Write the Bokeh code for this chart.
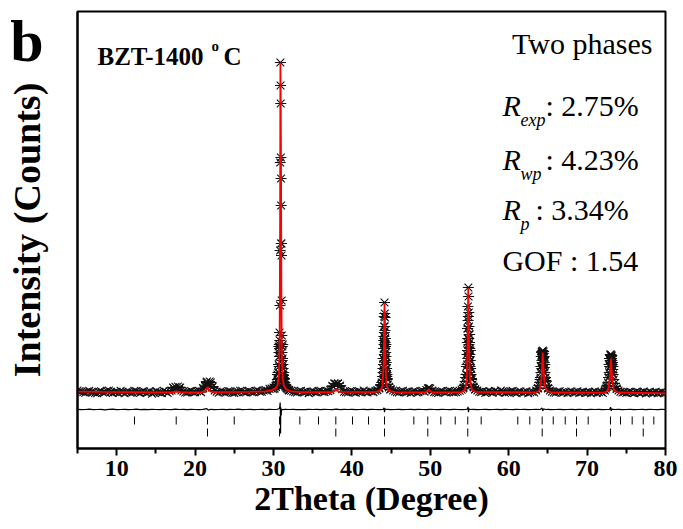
import numpy as np
from bokeh.plotting import figure
from bokeh.models import Range1d, Label, FixedTicker, ColumnDataSource
from bokeh.embed import file_html
from bokeh.resources import INLINE

FONT = "Liberation Serif"

# ---------------- data ----------------
# observed intensity on a 0.25 degree grid (counts, arbitrary scale)
obs_grid_x = np.arange(5.0, 80.001, 0.25)
obs_grid_y = [
    700, 660, 640, 610, 590, 650, 680, 620, 620, 580, 560, 640, 660, 600, 610, 680, 700, 630, 580, 620,
    630, 580, 690, 640, 560, 620, 640, 590, 600, 680, 670, 610, 580, 640, 650, 590, 610, 660, 540, 600,
    660, 620, 600, 570, 690, 640, 580, 660, 700, 820, 880, 760, 840, 700, 650, 600, 600, 650, 670, 620,
    620, 660, 680, 620, 820, 960, 1150, 1020, 1100, 900, 700, 640, 590, 650, 640, 600, 610, 670, 660, 590,
    580, 620, 640, 690, 690, 610, 600, 660, 650, 620, 610, 680, 700, 640, 640, 700, 720, 680, 780, 800,
    850, 920, 1250, 2400, 8050, 1350, 950, 820, 720, 690, 650, 620, 600, 660, 680, 610, 620, 650, 570, 630,
    650, 610, 600, 680, 690, 640, 620, 670, 660, 720, 930, 1050, 1020, 1050, 950, 760, 640, 620, 600, 660,
    670, 620, 590, 650, 640, 610, 700, 630, 600, 660, 650, 620, 690, 720, 820, 1000, 2300, 3300, 1300, 880,
    760, 700, 650, 620, 600, 660, 680, 610, 620, 650, 580, 640, 660, 600, 610, 670, 690, 640, 720, 800,
    800, 700, 620, 600, 580, 650, 660, 610, 610, 670, 690, 630, 600, 620, 650, 690, 740, 850, 1350, 3800,
    3100, 1300, 900, 760, 700, 640, 620, 660, 580, 620, 660, 640, 600, 680, 640, 590, 700, 650, 590, 620,
    620, 660, 680, 600, 570, 640, 650, 590, 610, 660, 560, 610, 640, 600, 700, 820, 1250, 2650, 2100, 1200,
    820, 700, 640, 600, 590, 650, 660, 600, 600, 640, 560, 620, 650, 600, 610, 660, 580, 610, 640, 590,
    600, 640, 560, 610, 650, 590, 610, 640, 580, 700, 880, 1350, 2450, 1750, 1050, 800, 700, 640, 600, 620,
    580, 620, 640, 590, 570, 640, 620, 580, 600, 650, 550, 600, 630, 580, 590, 640, 560, 600, 620, 570,
    580,
]

# extra observed points around the reflections
obs_peak_x = [
    17.2, 17.8, 18.1,
    21.3, 21.45, 21.7, 21.85, 22.15,
    30.0, 30.15, 30.3, 30.45, 30.55, 30.62, 30.68, 30.72, 30.76, 30.78,
    30.5, 30.6, 30.7, 30.35, 30.58, 30.64, 30.74, 30.77, 30.66,
    30.80, 30.82, 30.84, 30.86, 30.88, 30.90, 30.92, 30.94, 30.96, 30.98,
    31.00, 31.02, 31.04, 31.06, 31.08, 31.10,
    31.14, 31.2, 31.25, 31.3, 31.4, 31.5, 31.6, 31.7, 31.85, 32.0,
    31.2, 31.3, 31.4, 31.12, 31.16, 31.22, 31.28, 31.35, 31.45, 31.18,
    37.6, 37.8, 38.2, 38.4,
    43.5, 43.7, 43.8, 43.9, 43.95, 44.0, 44.04, 44.08, 44.12, 44.16,
    44.19, 44.22, 44.25, 44.28, 44.31, 44.34, 44.38, 44.42, 44.47, 44.52,
    44.6, 44.7, 44.85, 44.1, 44.2, 44.26, 44.3, 44.14, 44.24,
    44.02, 44.06, 44.1, 44.18, 44.24, 44.3, 44.36, 43.98, 44.45, 44.0, 44.33, 44.13,
    49.7, 49.85,
    54.2, 54.35, 54.45, 54.55, 54.62, 54.68, 54.72, 54.76, 54.8, 54.85,
    54.88, 54.91, 54.94, 54.97, 55.03, 55.06, 55.1, 55.15, 55.2,
    55.28, 55.4, 55.55, 55.7, 54.82, 54.9, 54.95, 55.0, 54.78,
    54.7, 54.74, 54.78, 54.86, 54.93, 54.98, 55.02, 55.08, 55.12, 55.18, 54.66, 55.05,
    63.7, 63.85, 63.95, 64.05, 64.12, 64.18, 64.24, 64.3, 64.35, 64.4,
    64.45, 64.5, 64.55, 64.62, 64.7, 64.78, 64.9, 65.05, 64.25, 64.45,
    64.15, 64.22, 64.28, 64.38, 64.48, 64.52, 64.58, 64.2, 64.6, 64.1,
    72.4, 72.55, 72.65, 72.75, 72.82, 72.88, 72.94, 73.05, 73.1,
    73.15, 73.2, 73.26, 73.32, 73.4, 73.62, 73.78, 72.95, 73.15,
    72.85, 72.9, 72.98, 73.08, 73.12, 73.18, 73.24, 72.8, 73.3,
]
obs_peak_y = [
    850, 900, 850,
    900, 1100, 1000, 1150, 850,
    760, 800, 880, 980, 1100, 1300, 1600, 1900, 2400, 2800,
    1500, 1100, 2600, 1000, 1600, 2000, 3000, 3600, 2900,
    3200, 4950, 7700, 12100, 17100, 15950, 15050, 12350, 11300, 9950,
    8050, 7450, 5200, 3450, 2600, 2200,
    1800, 1500, 1300, 1150, 1000, 900, 850, 800, 750, 700,
    2000, 1600, 1300, 2900, 2300, 1800, 1450, 1250, 1100, 3000,
    900, 1050, 1050, 900,
    800, 950, 1100, 1400, 1800, 2300, 2800, 3400, 4400, 5100,
    4550, 3700, 3300, 2900, 2600, 2400, 2100, 1800, 1500, 1250,
    1000, 850, 750, 3000, 2800, 2200, 1700, 3600, 4350,
    2000, 3200, 3900, 3900, 3100, 2000, 1600, 1600, 1400, 1200, 3000, 2500,
    800, 820,
    800, 950, 1150, 1500, 1900, 2500, 3100, 3800, 4900, 5850,
    5400, 4600, 3900, 3500, 2800, 2500, 2200, 1800, 1500,
    1250, 1000, 850, 750, 4200, 3300, 2700, 2000, 2300,
    2000, 2700, 3300, 4400, 3000, 2400, 3500, 1900, 2700, 1300, 1500, 1600,
    800, 950, 1100, 1350, 1600, 1900, 2200, 2500, 2700, 2550,
    2350, 2100, 1850, 1600, 1350, 1150, 950, 800, 2650, 2650,
    2400, 1800, 2100, 2300, 1600, 2400, 1300, 2600, 2000, 1900,
    800, 950, 1100, 1350, 1600, 1900, 2200, 2500, 2400,
    2200, 2000, 1750, 1500, 1250, 900, 780, 2500, 2450,
    2300, 1500, 1900, 2000, 2300, 1600, 2100, 2000, 1900,
]

# calculated profile (red)
calc_x = [5.0, 8.0, 12.0, 17.0, 17.6, 18.2, 20.8, 21.3, 21.5, 21.6, 21.7, 21.9, 22.4,
          27.0, 29.0, 29.8, 30.3, 30.55, 30.7, 30.78, 30.84, 30.88, 30.92, 30.96,
          31.0, 31.06, 31.15, 31.3, 31.6, 32.2, 33.5,
          37.6, 37.9, 38.0, 38.1, 38.4,
          43.0, 43.6, 43.9, 44.05, 44.12, 44.16, 44.21, 44.27, 44.4, 44.7, 45.5,
          49.4, 49.7, 49.8, 49.9, 50.2,
          54.0, 54.4, 54.65, 54.75, 54.84, 54.89, 54.95, 55.05, 55.3, 55.8,
          63.5, 63.95, 64.2, 64.34, 64.42, 64.5, 64.6, 64.9, 65.5,
          72.2, 72.65, 72.9, 73.05, 73.12, 73.22, 73.45, 74.0, 80.0]
calc_y = [640, 630, 620, 610, 650, 610, 620, 660, 780, 880, 780, 660, 620,
          630, 660, 720, 820, 1000, 1500, 3000, 9000, 17100, 15500, 12000,
          6000, 2500, 1400, 950, 760, 660, 620,
          620, 700, 780, 700, 630,
          620, 700, 900, 2000, 4000, 5050, 4300, 2200, 1000, 700, 620,
          610, 700, 760, 700, 610,
          620, 720, 1200, 3000, 5800, 4800, 2800, 1300, 750, 630,
          600, 700, 1300, 2600, 2000, 1400, 900, 680, 600,
          590, 700, 1300, 2300, 1800, 1100, 700, 600, 560]

# difference curve (obs - calc, shifted down)
diff_x = [5.0, 5.5, 6.0, 6.5, 7.0, 7.5, 8.0, 8.5, 9.0, 9.5, 10.0, 10.5, 11.0, 11.5, 12.0,
          12.5, 13.0, 13.5, 14.0, 14.5, 15.0, 15.5, 16.0, 16.5, 17.0, 17.5, 18.0, 18.5,
          19.0, 19.5, 20.0, 20.5, 21.0, 21.5, 21.7, 22.0, 22.5, 23.0, 23.5, 24.0, 24.5,
          25.0, 25.5, 26.0, 26.5, 27.0, 27.5, 28.0, 28.5, 29.0, 29.5, 30.0, 30.5,
          30.75, 30.82, 30.85, 30.87, 30.9, 30.92, 30.95, 30.98, 31.02, 31.1, 31.5,
          32.0, 32.5, 33.0, 33.5, 34.0, 34.5, 35.0, 35.5, 36.0, 36.5, 37.0, 37.5, 38.0,
          38.5, 39.0, 39.5, 40.0, 40.5, 41.0, 41.5, 42.0, 42.5, 43.0, 43.5, 44.0,
          44.1, 44.16, 44.22, 44.3, 44.5, 45.0, 45.5, 46.0, 46.5, 47.0, 47.5, 48.0,
          48.5, 49.0, 49.5, 50.0, 50.5, 51.0, 51.5, 52.0, 52.5, 53.0, 53.5, 54.0, 54.5,
          54.75, 54.82, 54.87, 54.93, 55.0, 55.5, 56.0, 56.5, 57.0, 57.5, 58.0, 58.5,
          59.0, 59.5, 60.0, 60.5, 61.0, 61.5, 62.0, 62.5, 63.0, 63.5, 64.0,
          64.25, 64.35, 64.45, 64.7, 65.0, 65.5, 66.0, 66.5, 67.0, 67.5, 68.0, 68.5,
          69.0, 69.5, 70.0, 70.5, 71.0, 71.5, 72.0, 72.5, 72.9, 73.0, 73.08, 73.15,
          73.5, 74.0, 74.5, 75.0, 75.5, 76.0, 76.5, 77.0, 77.5, 78.0, 78.5, 79.0, 79.5, 80.0]
diff_y = [-240, -260, -250, -230, -260, -250, -240, -265, -245, -235, -255, -250, -240, -260, -250,
          -235, -255, -245, -260, -240, -250, -255, -240, -250, -260, -230, -250, -245,
          -255, -240, -250, -260, -245, -210, -280, -240, -255, -250, -240, -260, -245,
          -250, -235, -255, -250, -240, -260, -250, -240, -255, -245, -250, -240,
          -200, -50, 100, -300, -1450, -400, -150, -550, -300, -260, -245,
          -250, -240, -255, -250, -260, -240, -250, -245, -255, -240, -250, -260, -230,
          -255, -245, -250, -240, -260, -250, -245, -255, -240, -250, -255, -240,
          -160, -380, -200, -250, -245, -255, -250, -240, -260, -250, -245, -255,
          -240, -250, -260, -240, -250, -255, -245, -250, -260, -240, -250, -255, -245,
          -230, -120, -380, -200, -250, -245, -255, -250, -240, -260, -250, -245,
          -255, -240, -250, -260, -245, -250, -240, -255, -250, -245, -250,
          -180, -320, -220, -250, -245, -255, -250, -240, -260, -250, -245, -255,
          -240, -250, -260, -245, -250, -240, -255, -250, -240, -130, -320, -230,
          -250, -245, -255, -250, -240, -260, -250, -245, -255, -240, -250, -260, -245, -250]

# Bragg reflection positions
bragg_phase1 = [12.27, 17.59, 21.58, 24.99, 30.77, 33.36, 35.74, 37.95, 40.08, 42.12,
                44.16, 47.90, 49.68, 51.34, 53.18, 54.78, 56.49, 61.16, 62.69, 64.27,
                65.68, 67.21, 68.65, 70.14, 72.98, 74.26, 75.75, 77.16, 78.51]
bragg_phase2 = [21.58, 30.77, 37.95, 44.16, 49.68, 54.78, 64.27, 68.65, 72.98, 77.16]

x_ticks = [10, 20, 30, 40, 50, 60, 70, 80]
x_minor = [5, 15, 25, 35, 45, 55, 65, 75]

# ---------------- figure ----------------
p = figure(width=683, height=529, output_backend="svg", toolbar_location=None,
           x_range=Range1d(5, 80), y_range=Range1d(-2200, 19650),
           min_border_left=77, min_border_right=18, min_border_top=11,
           min_border_bottom=81)
p.xgrid.visible = False
p.ygrid.visible = False
p.outline_line_color = "black"
p.outline_line_width = 2
p.outline_line_alpha = 1.0

obs_x = list(obs_grid_x) + obs_peak_x
obs_y = list(obs_grid_y) + obs_peak_y
src = ColumnDataSource(dict(x=obs_x, y=obs_y))
p.scatter("x", "y", source=src, marker="x", size=11, line_color="#111111",
          line_width=1.1, fill_color=None)
p.scatter("x", "y", source=src, marker="dash", size=11, line_color="#111111",
          line_width=1.1, fill_color=None)

p.line(calc_x, calc_y, line_color="#ff0000", line_width=1.8)
p.line(diff_x, diff_y, line_color="black", line_width=1.2)

p.segment(x0=bragg_phase1, y0=[-600] * len(bragg_phase1),
          x1=bragg_phase1, y1=[-1000] * len(bragg_phase1),
          line_color="black", line_width=1)
p.segment(x0=bragg_phase2, y0=[-1200] * len(bragg_phase2),
          x1=bragg_phase2, y1=[-1600] * len(bragg_phase2),
          line_color="black", line_width=1)

# x axis
ax = p.xaxis[0]
ax.ticker = FixedTicker(ticks=x_ticks, minor_ticks=x_minor)
ax.axis_line_width = 2
ax.major_tick_line_width = 2
ax.minor_tick_line_width = 2
ax.major_tick_out = 7
ax.major_tick_in = 0
ax.minor_tick_out = 5
ax.minor_tick_in = 0
ax.major_label_text_font = FONT
ax.major_label_text_font_style = "bold"
ax.major_label_text_font_size = "24px"
ax.major_label_text_color = "black"
ax.major_label_standoff = 5
ax.axis_label = "2Theta (Degree)"
ax.axis_label_text_font = FONT
ax.axis_label_text_font_style = "bold"
ax.axis_label_text_font_size = "34px"
ax.axis_label_text_color = "black"
ax.axis_label_standoff = 1

# y axis: no scale; the panel letter "b" is carried as its only tick label
B_POS = 18200
ay = p.yaxis[0]
ay.ticker = FixedTicker(ticks=[B_POS])
ay.major_label_overrides = {B_POS: "b"}
ay.axis_line_width = 2
ay.major_tick_out = 0
ay.major_tick_in = 0
ay.major_tick_line_color = None
ay.minor_tick_out = 0
ay.major_label_text_font = FONT
ay.major_label_text_font_style = "bold"
ay.major_label_text_font_size = "60px"
ay.major_label_text_color = "black"
ay.major_label_standoff = 34
ay.axis_label = "Intensity (Counts)"
ay.axis_label_text_font = FONT
ay.axis_label_text_font_style = "bold"
ay.axis_label_text_font_size = "38px"
ay.axis_label_text_color = "black"
ay.axis_label_standoff = -41


def lab(x, y, text, size, style="normal", align="left"):
    p.add_layout(Label(x=x, y=y, text=text, text_font=FONT, text_font_style=style,
                       text_font_size=size, text_color="black", text_align=align,
                       text_baseline="alphabetic"))


lab(7.55, 17400, "BZT-1400", "25px", "bold")
lab(22.09, 17950, "o", "15px", "bold")
lab(23.62, 17400, "C", "25px", "bold")

lab(78.34, 18050, "Two phases", "30px", "normal", "right")
lab(59.2, 14950, "R", "30px", "italic")
lab(61.5, 14250, "exp", "18px", "italic")
lab(64.69, 14950, ": 2.75%", "30px")
lab(59.2, 12250, "R", "30px", "italic")
lab(61.5, 11550, "wp", "18px", "italic")
lab(64.69, 12250, ": 4.23%", "30px")
lab(59.2, 9750, "R", "30px", "italic")
lab(61.5, 9050, "p", "18px", "italic")
lab(63.42, 9750, ": 3.34%", "30px")
lab(59.2, 7200, "GOF : 1.54", "30px")

open("out.html", "w").write(file_html(p, INLINE))
